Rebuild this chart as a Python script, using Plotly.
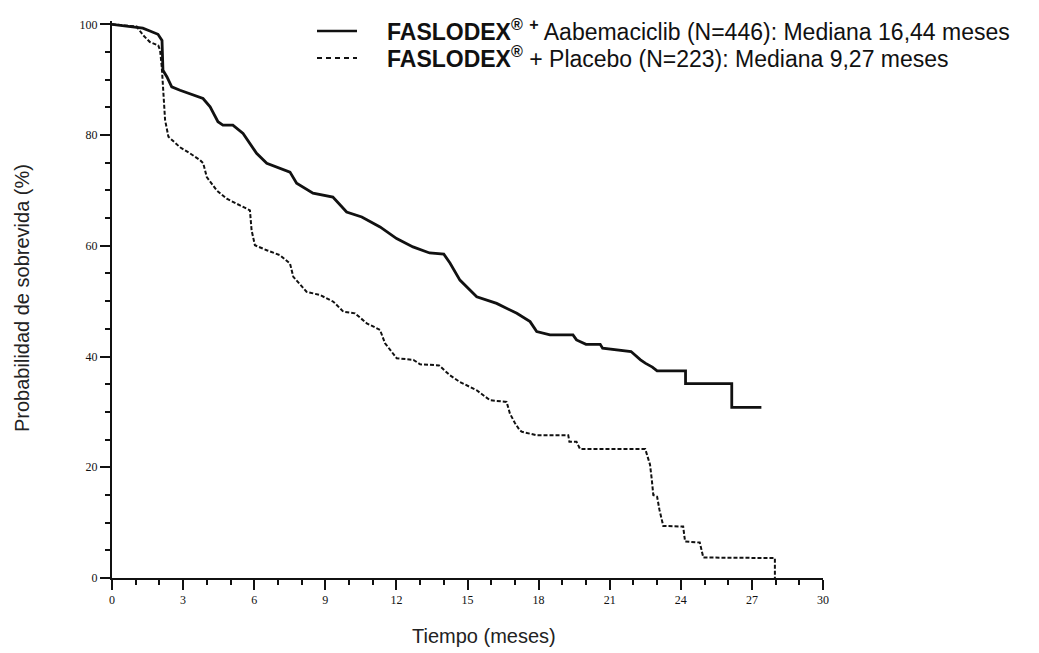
import plotly.graph_objects as go

# ---------------- data ----------------
abema_t = [0, 0.9, 1.3, 1.6, 1.94, 2.11, 2.15, 2.32, 2.52, 2.87, 3.42, 3.84, 4.14, 4.47, 4.68,
           5.1, 5.53, 5.95, 6.1, 6.53, 7.0, 7.51, 7.79, 8.48, 9.32, 9.9, 10.54, 11.31, 12.01, 12.7,
           13.4, 14.0, 14.26, 14.68, 15.39, 16.23, 17.08, 17.64, 17.92, 18.48, 19.45, 19.6, 20.0,
           20.6, 20.7, 21.4, 21.9, 22.3, 22.5, 22.8, 23.0, 24.2, 24.2, 26.15, 26.15, 27.4]
abema_s = [100, 99.5, 99.3, 98.8, 98.2, 97.1, 91.7, 90.5, 88.7, 88.1, 87.2, 86.6, 85.1, 82.4, 81.8,
           81.8, 80.3, 77.6, 76.7, 74.9, 74.2, 73.3, 71.3, 69.5, 68.8, 66.1, 65.2, 63.4, 61.3, 59.8,
           58.7, 58.5, 56.9, 53.8, 50.8, 49.6, 47.8, 46.3, 44.5, 43.9, 43.9, 43.0, 42.2,
           42.2, 41.5, 41.2, 40.9, 39.4, 38.8, 38.1, 37.4, 37.4, 35.1, 35.1, 30.8, 30.8]

placebo_t = [0, 1.04, 1.32, 1.6, 1.95, 2.03, 2.1, 2.16, 2.24, 2.38, 2.87, 3.29, 3.71, 3.85, 4.0,
             4.42, 4.84, 5.4, 5.82, 5.89, 6.03, 6.53, 7.09, 7.51, 7.65, 8.21, 8.78, 9.34, 9.76, 10.25,
             10.75, 11.31, 11.52, 12.01, 12.72, 13.0, 13.8, 14.26, 14.68, 15.39, 15.95, 16.65, 16.79,
             17.0, 17.2, 17.3, 17.9, 19.25, 19.3, 19.6, 19.75, 22.5, 22.7, 22.77, 22.84, 23.0, 23.1,
             23.26, 24.1, 24.18, 24.8, 24.95, 27.97, 27.97]
placebo_s = [100, 99.6, 98.0, 96.8, 96.2, 95.3, 92.3, 87.5, 82.7, 79.7, 77.8, 76.7, 75.5, 74.9, 72.4,
             70.0, 68.5, 67.3, 66.4, 62.8, 60.1, 59.2, 58.3, 56.8, 54.4, 51.7, 51.1, 49.9, 48.1, 47.8,
             46.0, 44.8, 42.4, 39.7, 39.4, 38.6, 38.4, 36.6, 35.4, 33.9, 32.1, 31.8, 29.7,
             28.0, 26.7, 26.4, 25.8, 25.8, 24.6, 24.6, 23.3, 23.3, 20.5, 18.0, 15.0, 14.7, 12.3,
             9.4, 9.3, 6.6, 6.4, 3.7, 3.6, 0]

x_ticks = [0, 3, 6, 9, 12, 15, 18, 21, 24, 27, 30]
y_ticks = [0, 20, 40, 60, 80, 100]

legend_abema = "<b>FASLODEX<sup>®</sup></b> <sup><b>+</b></sup> Aabemaciclib (N=446): Mediana 16,44 meses"
legend_placebo = "<b>FASLODEX<sup>®</sup></b> + Placebo (N=223): Mediana 9,27 meses"
x_title = "Tiempo (meses)"
y_title = "Probabilidad de sobrevida (%)"

# ---------------- layout geometry ----------------
W, H = 1039, 653
ML, MR, MT, MB = 112, 216, 21, 75
PW, PH = W - ML - MR, H - MT - MB
INK = "#111111"


def px_x(px):
    return (px - ML) / PW


def px_y(py):
    return (H - MB - py) / PH


fig = go.Figure()
fig.add_trace(go.Scatter(x=abema_t, y=abema_s, mode="lines",
                         line=dict(color=INK, width=2.8), showlegend=False, hoverinfo="skip"))
fig.add_trace(go.Scatter(x=placebo_t, y=placebo_s, mode="lines",
                         line=dict(color=INK, width=2, dash="4px,2px"), showlegend=False,
                         hoverinfo="skip"))

tick_font = dict(family="Liberation Serif, Times New Roman, serif", size=12, color=INK)

fig.update_xaxes(range=[0, 30], tickvals=x_ticks, ticktext=[str(v) for v in x_ticks],
                 showgrid=False, zeroline=False, showline=True, linecolor=INK, linewidth=2,
                 ticks="outside", ticklen=10, tickwidth=2, tickcolor=INK, tickfont=tick_font,
                 minor=dict(ticks="outside", dtick=1, ticklen=5, tickwidth=1.5, tickcolor=INK,
                            showgrid=False))
fig.update_yaxes(range=[0, 100.6], tickvals=y_ticks, ticktext=[str(v) for v in y_ticks],
                 showgrid=False, zeroline=False, showline=True, linecolor=INK, linewidth=2,
                 ticks="outside", ticklen=10, tickwidth=2, tickcolor=INK, tickfont=tick_font,
                 minor=dict(ticks="outside", dtick=5, ticklen=5, tickwidth=1.5, tickcolor=INK,
                            showgrid=False))

label_font = dict(family="Liberation Sans, Arial, sans-serif", size=20, color="#222222")
legend_font = dict(family="Liberation Sans, Arial, sans-serif", size=23, color=INK)

annotations = [
    dict(text=y_title, xref="paper", yref="paper", x=px_x(22), y=px_y(298),
         xanchor="center", yanchor="middle", textangle=-90, showarrow=False, font=label_font),
    dict(text=x_title, xref="paper", yref="paper", x=px_x(484), y=px_y(636),
         xanchor="center", yanchor="middle", showarrow=False, font=label_font),
    dict(text=legend_abema, xref="paper", yref="paper", x=px_x(385), y=px_y(30),
         xanchor="left", yanchor="middle", showarrow=False, font=legend_font),
    dict(text=legend_placebo, xref="paper", yref="paper", x=px_x(385), y=px_y(57),
         xanchor="left", yanchor="middle", showarrow=False, font=legend_font),
]

shapes = [
    dict(type="line", xref="paper", yref="paper", x0=px_x(317), x1=px_x(357),
         y0=px_y(31), y1=px_y(31), line=dict(color=INK, width=2.5)),
    dict(type="line", xref="paper", yref="paper", x0=px_x(317), x1=px_x(357),
         y0=px_y(58), y1=px_y(58), line=dict(color=INK, width=1.8, dash="5px,4px")),
]

fig.update_layout(width=W, height=H, margin=dict(l=ML, r=MR, t=MT, b=MB, pad=0),
                  paper_bgcolor="white", plot_bgcolor="white",
                  annotations=annotations, shapes=shapes, showlegend=False)

fig.write_html("out.html")
